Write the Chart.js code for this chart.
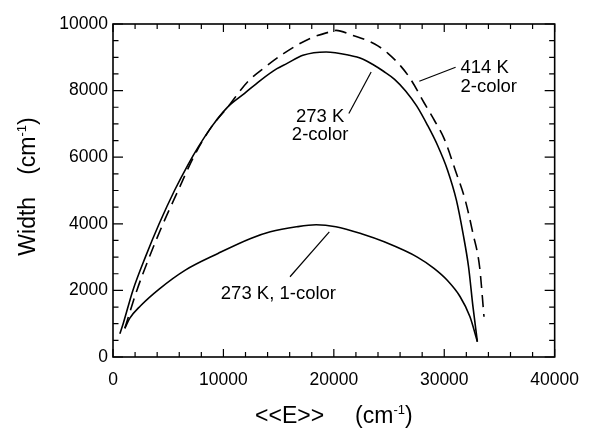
<!DOCTYPE html>
<html>
<head>
<meta charset="utf-8">
<script src="https://cdn.jsdelivr.net/npm/chart.js@4.4.0/dist/chart.umd.min.js"></script>
<style>
  html, body { margin: 0; padding: 0; background: #fff; }
</style>
</head>
<body>
<canvas id="widthChart" width="592" height="428"></canvas>
<script>
// 273 K, 2-color (solid, upper)
const twoColor273E = [620, 920, 1800, 2930, 4180, 5570, 6850, 7730, 8920, 10400, 11890, 13360, 14850, 15730, 17200, 19300, 21400, 22600, 23500, 24500, 25500, 26500, 27500, 28500, 29400, 30300, 31100, 31700, 32200, 32600, 33000];
const twoColor273W = [700, 1000, 2000, 3000, 4000, 5000, 5810, 6310, 6910, 7510, 7910, 8310, 8660, 8810, 9060, 9160, 9060, 8950, 8790, 8580, 8340, 7990, 7540, 6950, 6350, 5610, 4710, 3710, 2710, 1510, 460];

// 414 K, 2-color (dashed)
const twoColor414E = [1070, 2160, 3290, 4530, 5900, 7290, 8920, 10400, 12180, 13800, 15440, 17800, 19600, 20200, 21700, 23700, 24900, 26100, 27000, 28200, 29100, 30000, 31000, 31900, 32600, 33200, 33600];
const twoColor414W = [860, 2000, 3000, 4000, 5000, 6000, 6910, 7510, 8260, 8710, 9110, 9560, 9760, 9810, 9660, 9400, 9120, 8720, 8320, 7620, 7110, 6550, 5610, 4710, 3710, 2710, 1210];

// 273 K, 1-color (solid, lower)
const oneColor273E = [1070, 1510, 2500, 4180, 6550, 9510, 12470, 14250, 16620, 18400, 20180, 22500, 24620, 27560, 29070, 30250, 31440, 32330, 33000];
const oneColor273W = [860, 1160, 1540, 2040, 2610, 3110, 3560, 3760, 3910, 3970, 3910, 3700, 3450, 3000, 2660, 2310, 1810, 1210, 460];

const xTickLabels = [0, 10000, 20000, 30000, 40000];
const yTickLabels = [0, 2000, 4000, 6000, 8000, 10000];

const FONT = "'Liberation Sans', Arial, Helvetica, sans-serif";
const toPoints = (xs, ys) => xs.map((x, i) => ({ x, y: ys[i] }));

// frame with inward ticks on all four sides
const frameTicks = {
    id: "frameTicks",
    afterDatasetsDraw(chart) {
        const { ctx, chartArea: a, scales: { x, y } } = chart;
        ctx.save();
        ctx.strokeStyle = "#000";
        ctx.lineWidth = 1.2;
        ctx.beginPath();
        for (let v = 0; v <= 40000; v += 2000) {
            const px = x.getPixelForValue(v);
            const len = v % 10000 === 0 ? 8 : 5;
            ctx.moveTo(px, a.bottom); ctx.lineTo(px, a.bottom - len);
            ctx.moveTo(px, a.top); ctx.lineTo(px, a.top + len);
        }
        for (let v = 0; v <= 10000; v += 500) {
            const py = y.getPixelForValue(v);
            const len = v % 2000 === 0 ? 10 : 5.5;
            ctx.moveTo(a.left, py); ctx.lineTo(a.left + len, py);
            ctx.moveTo(a.right, py); ctx.lineTo(a.right - len, py);
        }
        ctx.stroke();
        ctx.lineWidth = 1.6;
        ctx.strokeRect(a.left, a.top, a.right - a.left, a.bottom - a.top);
        ctx.restore();
    }
};

// draws "text (cm-1)" pieces with a raised superscript
function drawPieces(ctx, pieces, x0, baseline) {
    let x = x0;
    pieces.forEach(p => {
        if (p.gap) { x += p.gap; return; }
        ctx.font = p.size + "px " + FONT;
        ctx.fillText(p.text, x, baseline - (p.rise || 0));
        x += ctx.measureText(p.text).width;
    });
}
function piecesWidth(ctx, pieces) {
    let w = 0;
    pieces.forEach(p => {
        if (p.gap) { w += p.gap; return; }
        ctx.font = p.size + "px " + FONT;
        w += ctx.measureText(p.text).width;
    });
    return w;
}

const axisTitles = {
    id: "axisTitles",
    afterDraw(chart) {
        const { ctx, chartArea: a } = chart;
        ctx.save();
        ctx.fillStyle = "#000";
        ctx.textBaseline = "alphabetic";
        ctx.textAlign = "left";
        const unit = [
            { text: "(cm", size: 23 },
            { text: "-1", size: 13, rise: 9 },
            { text: ")", size: 23 }
        ];
        const xt = [{ text: "<<E>>", size: 23 }, { gap: 31 }].concat(unit);
        const xw = piecesWidth(ctx, xt);
        drawPieces(ctx, xt, (a.left + a.right) / 2 - xw / 2, 423);

        const yt = [{ text: "Width", size: 23 }, { gap: 22 }].concat(unit);
        const yw = piecesWidth(ctx, yt);
        ctx.translate(35, (a.top + a.bottom) / 2 - 4);
        ctx.rotate(-Math.PI / 2);
        drawPieces(ctx, yt, -yw / 2, 0);
        ctx.restore();
    }
};

// curve labels with leader lines, placed in data coordinates
const curveLabels = [
    { lines: ["414 K", "2-color"], at: [31470, 8670], align: "left", from: [27740, 8280], to: [31030, 8700] },
    { lines: ["273 K", "2-color"], at: [18760, 7215], align: "center", from: [21360, 7310], to: [23380, 8560] },
    { lines: ["273 K, 1-color"], at: [14980, 1890], align: "center", from: [16030, 2410], to: [19590, 3760] }
];

const labelPlugin = {
    id: "labelPlugin",
    afterDatasetsDraw(chart) {
        const { ctx, scales: { x, y } } = chart;
        ctx.save();
        ctx.fillStyle = "#000";
        ctx.strokeStyle = "#000";
        ctx.lineWidth = 1.2;
        ctx.font = "18.5px " + FONT;
        ctx.textBaseline = "middle";
        curveLabels.forEach(l => {
            ctx.textAlign = l.align;
            const px = x.getPixelForValue(l.at[0]);
            const py = y.getPixelForValue(l.at[1]);
            l.lines.forEach((t, i) => ctx.fillText(t, px, py + i * 18.5));
            ctx.beginPath();
            ctx.moveTo(x.getPixelForValue(l.from[0]), y.getPixelForValue(l.from[1]));
            ctx.lineTo(x.getPixelForValue(l.to[0]), y.getPixelForValue(l.to[1]));
            ctx.stroke();
        });
        ctx.restore();
    }
};

const lineStyle = {
    showLine: true,
    pointRadius: 0,
    borderColor: "#000",
    borderWidth: 1.6,
    cubicInterpolationMode: "monotone",
    fill: false
};

new Chart(document.getElementById("widthChart"), {
    type: "scatter",
    data: {
        datasets: [
            Object.assign({ label: "273 K, 2-color", data: toPoints(twoColor273E, twoColor273W) }, lineStyle),
            Object.assign({ label: "414 K, 2-color", data: toPoints(twoColor414E, twoColor414W), borderDash: [12, 7] }, lineStyle),
            Object.assign({ label: "273 K, 1-color", data: toPoints(oneColor273E, oneColor273W) }, lineStyle)
        ]
    },
    options: {
        responsive: false,
        animation: false,
        devicePixelRatio: 1,
        layout: { padding: { top: 24, right: 29, left: 0, bottom: 0 } },
        plugins: { legend: { display: false }, tooltip: { enabled: false } },
        scales: {
            x: {
                type: "linear",
                min: 0,
                max: 40000,
                afterFit: s => { s.height = 71; },
                afterBuildTicks: s => { s.ticks = xTickLabels.map(v => ({ value: v })); },
                grid: { display: false, drawTicks: false },
                border: { display: false },
                ticks: {
                    padding: 13,
                    color: "#000",
                    font: { family: FONT, size: 17.5 },
                    maxRotation: 0,
                    callback: v => String(v)
                }
            },
            y: {
                type: "linear",
                min: 0,
                max: 10000,
                afterFit: s => { s.width = 113; },
                afterBuildTicks: s => { s.ticks = yTickLabels.map(v => ({ value: v })); },
                grid: { display: false, drawTicks: false },
                border: { display: false },
                ticks: {
                    padding: 5,
                    color: "#000",
                    font: { family: FONT, size: 17.5 },
                    callback: v => String(v)
                }
            }
        }
    },
    plugins: [frameTicks, labelPlugin, axisTitles]
});
</script>
</body>
</html>
